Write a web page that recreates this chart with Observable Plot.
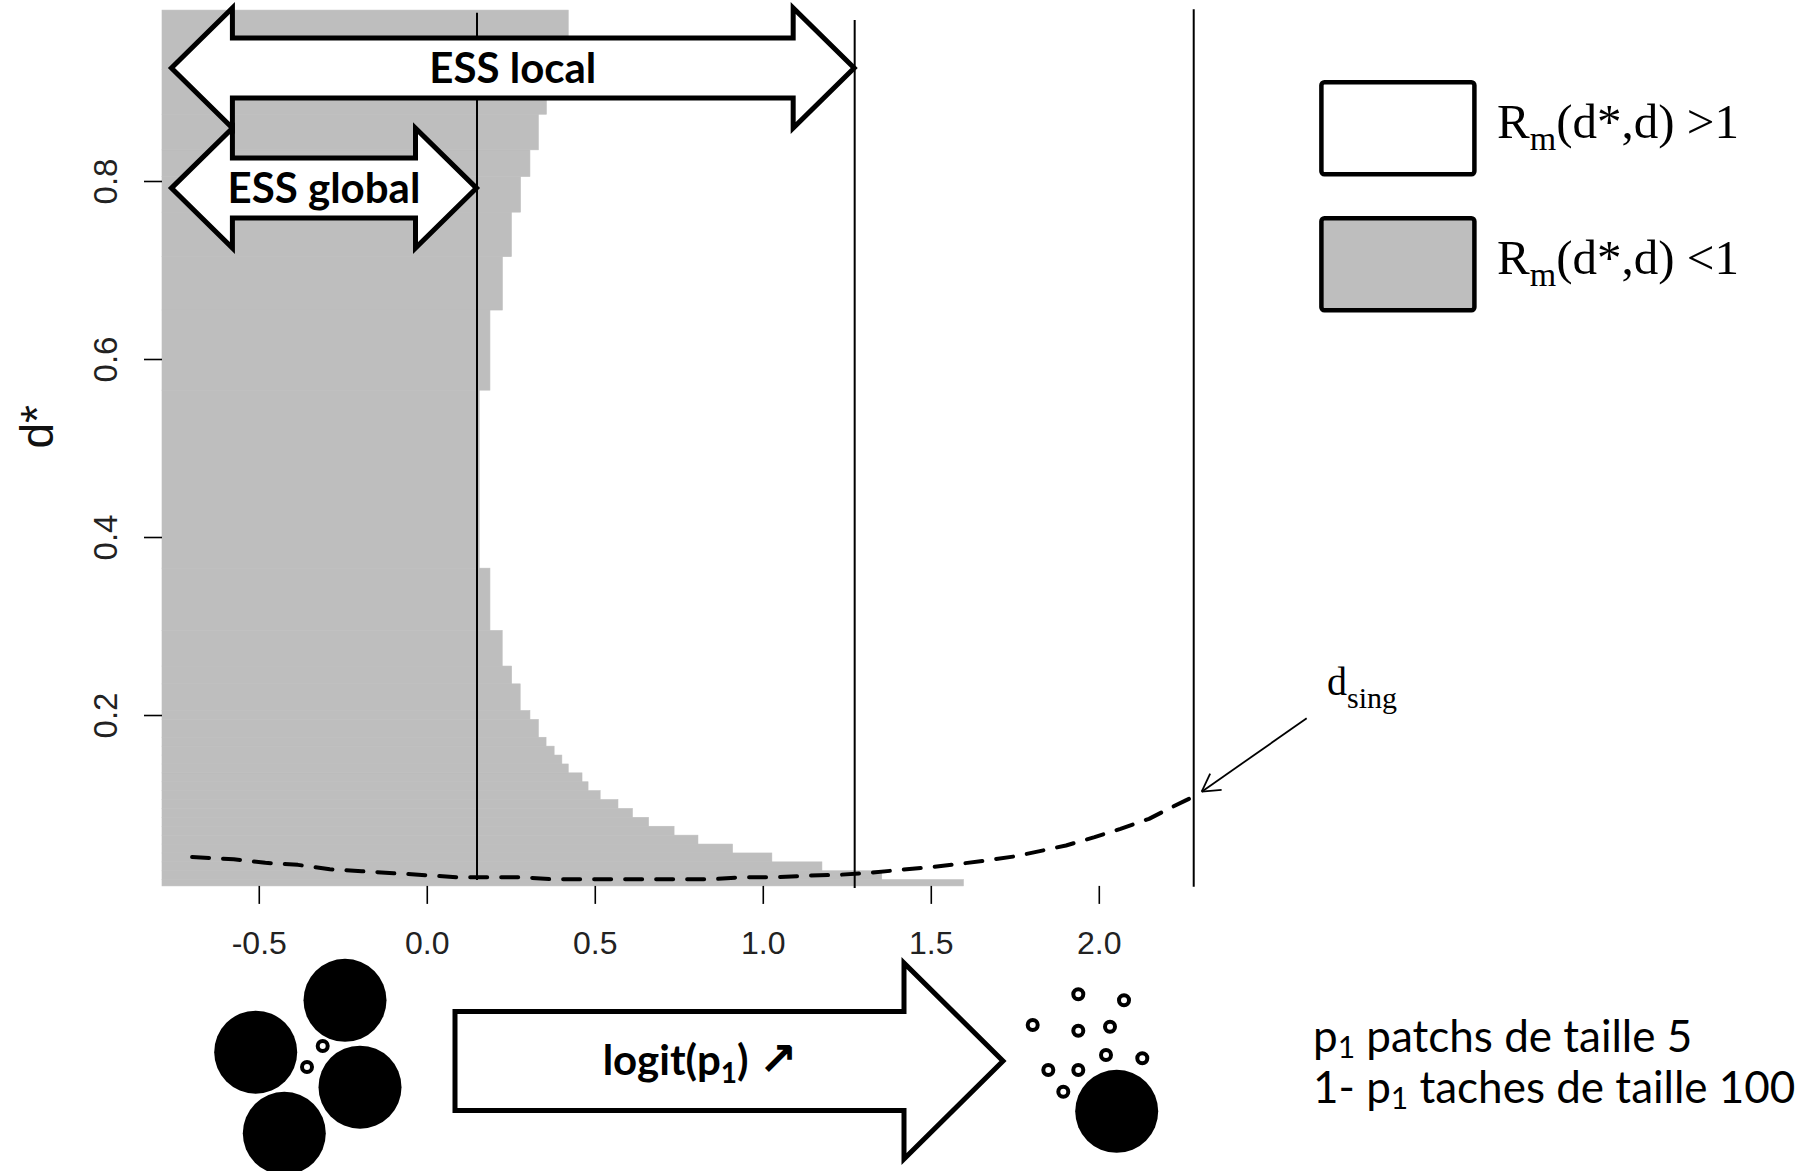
<!DOCTYPE html>
<html><head><meta charset="utf-8">
<script src="https://cdn.jsdelivr.net/npm/d3@7"></script>
<script src="https://cdn.jsdelivr.net/npm/@observablehq/plot@0.6"></script>
<style>
html,body{margin:0;padding:0;background:#fff;}
#chart{width:1810px;height:1171px;}
</style></head><body><div id="chart"></div>
<script>
// ---- data ----
const xTicks = [-0.5, 0, 0.5, 1, 1.5, 2];
const yTicks = [0.2, 0.4, 0.6, 0.8];
// gray region (R_m < 1): bands of d* with right boundary in logit(p1)
const grayLeft = -0.788;
const bandLow  = [0.008,0.015,0.025,0.035,0.045,0.055,0.065,0.075,0.085,0.095,0.105,0.115,0.125,0.135,0.145,0.155,0.165,0.175,0.195,0.205,0.235,0.255,0.295,0.365,0.565,0.655,0.715,0.765,0.805,0.835,0.875,0.925];
const bandHigh = [0.015,0.025,0.035,0.045,0.055,0.065,0.075,0.085,0.095,0.105,0.115,0.125,0.135,0.145,0.155,0.165,0.175,0.195,0.205,0.235,0.255,0.295,0.365,0.565,0.655,0.715,0.765,0.805,0.835,0.875,0.925,0.992];
const bandRight= [1.597,1.354,1.176,1.027,0.910,0.807,0.736,0.660,0.612,0.569,0.516,0.480,0.462,0.421,0.402,0.379,0.355,0.332,0.307,0.278,0.2525,0.2245,0.188,0.156,0.188,0.225,0.252,0.279,0.307,0.332,0.356,0.421];
// singular strategy curve d_sing(logit p1)
const logitP1 = [-0.70,-0.576,-0.482,-0.385,-0.290,-0.195,-0.100,-0.004,0.089,0.178,0.277,0.371,0.466,0.562,0.656,0.751,0.847,0.942,1.036,1.136,1.225,1.319,1.408,1.501,1.584,1.661,1.746,1.823,1.901,1.986,2.063,2.148,2.216,2.281];
const dSing   = [0.041,0.0385,0.0345,0.0322,0.0273,0.025,0.0228,0.0206,0.0183,0.0183,0.0183,0.0161,0.0161,0.0161,0.0161,0.0161,0.0161,0.0183,0.0183,0.0202,0.021,0.0233,0.0266,0.0296,0.0333,0.037,0.0416,0.0476,0.054,0.0633,0.0727,0.0839,0.097,0.109];
// vertical reference lines: ESS global, ESS local, d_sing end
const vlineX      = [0.148, 1.272, 2.281];
const vlineTop    = [0.989, 0.981, 0.993];
const vlineBottom = [0.0146, 0.0056, 0.007];
// ESS arrows (start in logit p1, level in d*)
const essStart = -0.76;
const essGlobalY = 0.792;
const essLocalY = 0.927;

// ---- tables ----
const bands = bandLow.map((lo, i) => ({lo, hi: bandHigh[i], left: grayLeft, right: bandRight[i]}));
const curve = logitP1.map((x, i) => ({x, y: dSing[i]}));
const vlines = vlineX.map((x, i) => ({x, y1: vlineBottom[i], y2: vlineTop[i]}));

const GRAY = "#bebebe";
const plot = Plot.plot({
  width: 1810, height: 1171,
  marginLeft: 162, marginRight: 610.4, marginTop: 10.1, marginBottom: 285.1,
  x: {domain: [-0.788, 2.30]},
  y: {domain: [0.008, 0.992]},
  style: {background: "white", fontFamily: "'Liberation Sans', Arial, sans-serif"},
  marks: [
    Plot.rect(bands, {x1: "left", x2: "right", y1: "lo", y2: "hi", fill: GRAY, stroke: GRAY, strokeWidth: 0.6}),
    Plot.line(curve, {x: "x", y: "y", stroke: "black", strokeWidth: 4, strokeDasharray: "17,14"}),
    Plot.ruleX(vlines, {x: "x", y1: "y1", y2: "y2", stroke: "black", strokeWidth: 2}),
    Plot.axisX({ticks: xTicks, tickFormat: d => d.toFixed(1), tickSize: 18, tickPadding: 27, fontSize: 32, fill: "#222", stroke: "black", strokeWidth: 1.6, label: null}),
    Plot.axisY({ticks: yTicks, tickFormat: d => d.toFixed(1), tickSize: 18, tickPadding: 28, tickRotate: -90, fontSize: 33, fill: "#222", stroke: "black", strokeWidth: 1.6, label: null}),
    Plot.text(["d*"], {text: d => d, frameAnchor: "left", rotate: -90, dx: -124, fontSize: 46, fill: "#111"})
  ]
});
document.getElementById("chart").appendChild(plot);

// ---- annotations ----
const sx = plot.scale("x"), sy = plot.scale("y");
const X = v => sx.apply(v), Y = v => sy.apply(v);
const svg = d3.select(plot);
const g = svg.append("g").attr("text-anchor", "start");

function blockArrow(xL, xR, cy, hl, hh, sh) {
  return `M${xL},${cy} L${xL+hl},${cy-hh} L${xL+hl},${cy-sh} L${xR-hl},${cy-sh} L${xR-hl},${cy-hh} L${xR},${cy} L${xR-hl},${cy+hh} L${xR-hl},${cy+sh} L${xL+hl},${cy+sh} L${xL+hl},${cy+hh} Z`;
}
const essArrows = [
  {x2: vlineX[1], y: essLocalY, label: "ESS local"},
  {x2: vlineX[0], y: essGlobalY, label: "ESS global"}
];
for (const a of essArrows) {
  const xL = X(essStart), xR = X(a.x2), cy = Y(a.y);
  g.append("path").attr("d", blockArrow(xL, xR, cy, 61, 60, 30))
    .attr("fill", "white").attr("stroke", "black").attr("stroke-width", 5).attr("stroke-linejoin", "miter");
  g.append("text").attr("x", (xL + xR) / 2).attr("y", cy + 15).attr("text-anchor", "middle")
    .attr("font-family", "Lato, 'Open Sans', sans-serif").attr("font-weight", "bold").attr("font-size", 42)
    .attr("fill", "black").text(a.label);
}

// legend
const serif = "'Liberation Serif', 'DejaVu Serif', serif";
const legendItems = [{fill: "white", sign: ">1", y: 82.3}, {fill: GRAY, sign: "<1", y: 218.3}];
for (const it of legendItems) {
  g.append("rect").attr("x", 1321.4).attr("y", it.y).attr("width", 153).attr("height", 92).attr("rx", 3)
    .attr("fill", it.fill).attr("stroke", "black").attr("stroke-width", 4.5);
  const t = g.append("text").attr("x", 1497).attr("y", it.y + 56).attr("font-family", serif).attr("font-size", 49).attr("fill", "black");
  t.append("tspan").text("R");
  t.append("tspan").attr("font-size", 34).attr("dy", 12).text("m");
  t.append("tspan").attr("dy", -12).text("(d*,d) " + it.sign);
}

// d_sing label and arrow
const ds = g.append("text").attr("x", 1327).attr("y", 695).attr("font-family", serif).attr("font-size", 40).attr("fill", "black");
ds.append("tspan").text("d");
ds.append("tspan").attr("font-size", 30).attr("dy", 13).text("sing");
const tip = [1201.7, 791.7], start = [1306.7, 718.3];
g.append("line").attr("x1", start[0]).attr("y1", start[1]).attr("x2", tip[0]).attr("y2", tip[1]).attr("stroke", "black").attr("stroke-width", 1.8);
{
  const ang = Math.atan2(start[1] - tip[1], start[0] - tip[0]);
  for (const s of [-1, 1]) {
    const a2 = ang + s * Math.PI / 6;
    g.append("line").attr("x1", tip[0]).attr("y1", tip[1])
      .attr("x2", tip[0] + 20 * Math.cos(a2)).attr("y2", tip[1] + 20 * Math.sin(a2))
      .attr("stroke", "black").attr("stroke-width", 1.8);
  }
}

// bottom illustration: patches
const bigLeft = [[345, 1000.3], [255.7, 1052.2], [360, 1087.2], [284.3, 1133.3]];
for (const [cx, cy] of bigLeft) g.append("circle").attr("cx", cx).attr("cy", cy).attr("r", 41.5).attr("fill", "black");
const smallLeft = [[322.7, 1046], [307, 1067]];
const smallRight = [[1078.3, 994.3], [1124, 1000.3], [1032.7, 1025], [1078.3, 1030.7], [1110, 1026.7], [1106, 1055], [1142.3, 1058.3], [1048.3, 1070], [1078.3, 1070], [1063.3, 1091.7]];
for (const [cx, cy] of smallLeft.concat(smallRight))
  g.append("circle").attr("cx", cx).attr("cy", cy).attr("r", 5).attr("fill", "white").attr("stroke", "black").attr("stroke-width", 4);
g.append("circle").attr("cx", 1116.7).attr("cy", 1111.3).attr("r", 41.5).attr("fill", "black");

// big arrow
{
  const x0 = 455, xb = 904, xt = 1003, cy = 1061, sh = 49.5, hh = 98;
  g.append("path").attr("d", `M${x0},${cy-sh} L${xb},${cy-sh} L${xb},${cy-hh} L${xt},${cy} L${xb},${cy+hh} L${xb},${cy+sh} L${x0},${cy+sh} Z`)
    .attr("fill", "white").attr("stroke", "black").attr("stroke-width", 5).attr("stroke-linejoin", "miter");
  const t = g.append("text").attr("x", 700).attr("y", 1075).attr("text-anchor", "middle")
    .attr("font-family", "Lato, 'Open Sans', sans-serif").attr("font-weight", "bold").attr("font-size", 42).attr("fill", "black");
  t.append("tspan").text("logit(p");
  t.append("tspan").attr("font-size", 28).attr("dy", 8).text("1");
  t.append("tspan").attr("dy", -8).text(") ");
  t.append("tspan").attr("font-family", "'DejaVu Sans', sans-serif").attr("font-size", 46).text("↗");
}

// bottom-right text
{
  const f = "Lato, 'Open Sans', sans-serif";
  const t1 = g.append("text").attr("x", 1313).attr("y", 1051.7).attr("font-family", f).attr("font-size", 44).attr("fill", "black");
  t1.append("tspan").text("p");
  t1.append("tspan").attr("font-size", 30).attr("dy", 6).text("1");
  t1.append("tspan").attr("dy", -6).text(" patchs de taille 5");
  const t2 = g.append("text").attr("x", 1313).attr("y", 1103.3).attr("font-family", f).attr("font-size", 44).attr("fill", "black");
  t2.append("tspan").text("1- p");
  t2.append("tspan").attr("font-size", 30).attr("dy", 6).text("1");
  t2.append("tspan").attr("dy", -6).text(" taches de taille 100");
}
</script></body></html>
